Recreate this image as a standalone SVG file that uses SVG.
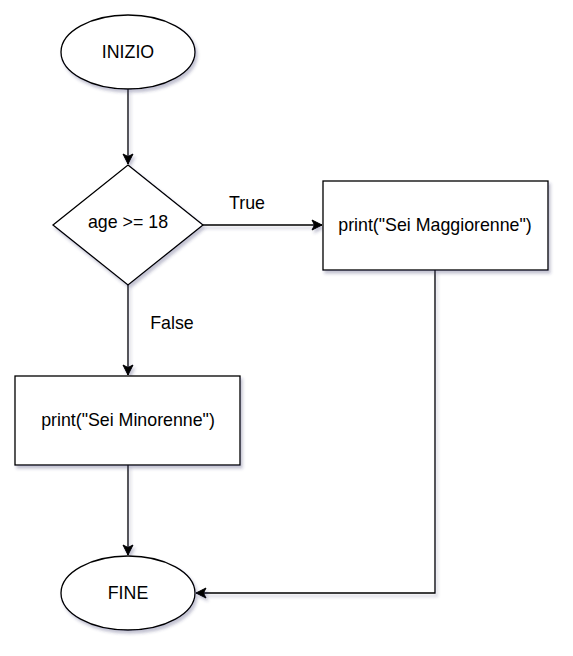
<svg xmlns="http://www.w3.org/2000/svg" width="573" height="656" viewBox="0 0 573 656">
<defs>
<filter id="sh" filterUnits="userSpaceOnUse" x="0" y="0" width="573" height="656">
<feDropShadow dx="2" dy="3" stdDeviation="1.7" flood-color="#3a3a6a" flood-opacity="0.3"/>
</filter>
<marker id="arr" markerWidth="12" markerHeight="12" viewBox="0 0 12 12" refX="11" refY="6" orient="auto" markerUnits="userSpaceOnUse">
<path d="M1,1 L11,6 L1,11 L3.5,6 Z" fill="#000" stroke="#000" stroke-width="1"/>
</marker>
</defs>
<style>
.node{fill:#fff;stroke:#000;stroke-width:1.3;filter:url(#sh)}
.lbl{font-family:"Liberation Sans",Arial,sans-serif;font-size:17.8px;fill:#000;text-anchor:middle;dominant-baseline:central}
.edge{fill:none;stroke:#000;stroke-width:1.3;marker-end:url(#arr);filter:url(#sh)}
</style>
<rect width="573" height="656" fill="#fff"/>
<g id="connectors">
<path class="edge" d="M128,89 L128,164"/>
<path class="edge" d="M203,225 L322,225"/>
<path class="edge" d="M128,285 L128,375"/>
<path class="edge" d="M128,465 L128,555"/>
<path class="edge" d="M435,270 L435,593 L196,593"/>
<text class="lbl" x="247" y="203">True</text>
<text class="lbl" x="172" y="323">False</text>
</g>
<g id="inizio">
<ellipse class="node" cx="128" cy="52" rx="67" ry="37"/>
<text class="lbl" x="128" y="52">INIZIO</text>
</g>
<g id="decision">
<path class="node" d="M128,165 L203,225 L128,285 L53,225 Z"/>
<text class="lbl" x="128" y="222">age &gt;= 18</text>
</g>
<g id="maggiorenne">
<rect class="node" x="323" y="181" width="225" height="89"/>
<text class="lbl" x="435" y="225">print("Sei Maggiorenne")</text>
</g>
<g id="minorenne">
<rect class="node" x="15" y="376" width="225" height="89"/>
<text class="lbl" x="128" y="420">print("Sei Minorenne")</text>
</g>
<g id="fine">
<ellipse class="node" cx="128" cy="593" rx="67" ry="37"/>
<text class="lbl" x="128" y="593">FINE</text>
</g>
</svg>
